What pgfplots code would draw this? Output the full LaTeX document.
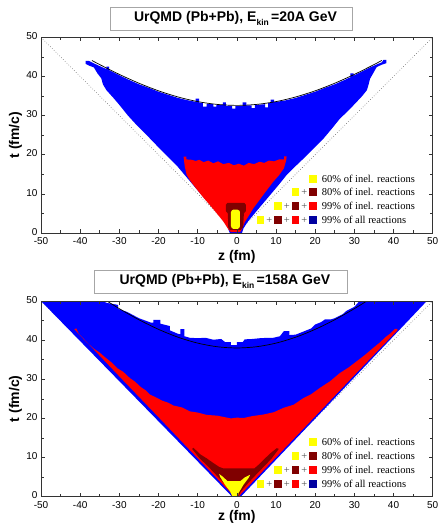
\documentclass[border=0pt]{standalone}
\usepackage{pgfplots}
\pgfplotsset{compat=1.18}
\usepackage{fontspec}
\setmainfont{Liberation Serif}
\setsansfont{Liberation Sans}
\definecolor{cblue}{RGB}{0,0,255}
\definecolor{cred}{RGB}{255,0,0}
\definecolor{cdark}{RGB}{128,0,0}
\definecolor{cyel}{RGB}{255,255,0}
\definecolor{cnavy}{RGB}{0,0,160}
\newcommand{\sq}[1]{\textcolor{#1}{\rule[-0.5pt]{7.6pt}{8pt}}}
\newcommand{\pl}{\hspace{2pt}{\color{black!70}+}\hspace{2pt}}
\newcommand{\legrow}[3]{\node[anchor=base west, inner sep=0pt, font=\fontsize{10.5}{10.5}\selectfont] at (rel axis cs:0.7166,#1) {\llap{#2\hspace{5pt}}#3};}

\pgfplotsset{panel/.style={
  width=391.7pt, height=195.7pt, scale only axis,
  xmin=-50,xmax=50,ymin=0,ymax=50,
  clip mode=individual,
  xtick={-50,-40,...,50}, xticklabels={-50,-40,-30,-20,-10,0,10,20,30,40,50},
  ytick={0,10,...,50}, yticklabels={0,10,20,30,40,50},
  minor tick num=1,
  tick align=inside, tick pos=both,
  major tick length=3.5pt, minor tick length=3pt,
  every tick/.style={black!80, line width=0.6pt},
  axis line style={black!80, line width=0.9pt},
  ticklabel style={font=\sffamily\fontsize{10}{10}\selectfont, inner sep=0.5pt},
  xticklabel shift=4pt, yticklabel shift=2.8pt,
  yticklabel style={yshift=1.2pt},
  xlabel={z (fm)}, ylabel={t (fm/c)},
  every axis y label/.style={at={(axis description cs:-0.065,0.5)}, rotate=90, anchor=center,
     font=\sffamily\bfseries\fontsize{14}{14}\selectfont},
  every axis x label/.style={at={(axis description cs:0.5,-0.122)}, anchor=center,
     font=\sffamily\bfseries\fontsize{14}{14}\selectfont},
  axis on top,
}}
\tikzset{titlebox/.style={draw=black!35, fill=white, line width=0.6pt, minimum height=23pt, inner sep=0pt, font=\sffamily\bfseries\fontsize{14}{14}\selectfont}}

\begin{document}
\begin{tikzpicture}
\useasboundingbox (0,0) rectangle (438pt,526pt);
% ===================== top panel: 20A GeV =====================
\begin{axis}[panel, at={(41pt,293pt)}, anchor=south west]
\addplot[black!60, dotted, line width=0.6pt] coordinates {(-50,50) (0,0) (50,50)};
% 99% of all reactions (blue)
\addplot[draw=none, fill=cblue] coordinates {
(-1.8,0) (-2.2,1.0) (-3.0,2.9) (-4.8,5.0) (-6.7,7.1) (-8.9,9.6) (-11.1,12.2) (-13.3,14.8)
(-15.4,17.3) (-18.0,19.9) (-20.5,22.4) (-23.0,25.0) (-25.6,27.6) (-27.8,30.0) (-29.8,32.5)
(-31.5,34.5) (-33.3,36.5) (-34.2,38.0) (-34.6,39.5) (-35.6,40.8) (-36.5,42.3) (-37.8,42.8)
(-38.6,43.2) (-38.6,44.0) (-37.8,44.0) (-37.0,43.6)
(-36,43.1) (-34.5,42.4) (-33.3,41.9) (-33.3,42.5) (-32.6,42.5) (-32.6,41.6) (-30,40.3)
(-27.5,39.1) (-25,38.0) (-22.5,37.1) (-20,36.1) (-17.5,35.3) (-15,34.5) (-12.5,33.9)
(-10.5,33.5) (-10.5,34.3) (-9.6,34.3) (-9.6,33.3) (-8.7,33.3) (-8.7,32.3) (-7.7,32.3)
(-7.7,33.0) (-6.0,32.9) (-6.0,32.3) (-5.2,32.3) (-5.2,32.8) (-3.6,32.7) (-3.6,33.4)
(-2.8,33.4) (-2.8,32.5) (-1.2,32.5) (-1.2,31.8) (-0.4,31.8) (-0.4,32.4) (1.5,32.4)
(1.5,33.4) (2.4,33.4) (2.4,32.6) (3.8,32.6) (3.8,31.9) (4.6,31.9) (4.6,32.7) (7.2,32.9)
(7.2,32.1) (8.0,32.1) (8.0,33.2) (8.6,33.2) (8.6,34.1) (9.5,34.1) (9.5,33.4) (12.5,33.9)
(15,34.5) (17.5,35.3) (20,36.1) (22.5,37.1) (25,38.0) (27.5,39.1) (29,39.8) (29,40.8)
(29.8,40.8) (29.8,40.2) (32,41.3) (34,42.3) (36,43.2) (37.0,43.6) (37.4,44.2) (38.2,44.2)
(38.2,43.4)
(37.0,43.0) (35.7,42.4) (34.8,40.8) (34.0,39.4) (33.6,37.8) (33.2,36.5) (32.0,35.0)
(30.6,33.5) (28.5,31.3) (26.3,29.2) (24.2,26.6) (22.1,24.1) (19.5,21.5) (17.0,19.0)
(14.8,16.9) (12.7,14.8) (10.6,12.2) (8.5,9.7) (6.3,7.1) (4.2,4.6) (2.8,2.9) (1.7,1.2) (1.3,0)
} -- cycle;
% 99% of inel. reactions (red)
\addplot[draw=none, fill=cred] coordinates {
(-1.5,0.2) (-2.2,1.0) (-3.5,3.0) (-5.6,5.6) (-7.2,7.5) (-8.5,9.0) (-10.5,11.5) (-11.8,13.2)
(-12.8,14.8) (-13.3,17.0) (-13.6,19.5) (-12.9,19.5) (-12.9,18.8) (-11.5,18.7) (-10.5,18.4)
(-9.6,18.7) (-8.5,18.1) (-7.3,18.5) (-6.0,17.8) (-4.8,18.3) (-3.5,17.6) (-2.0,17.9)
(-0.8,17.3) (0.5,17.7) (1.8,17.2) (3.0,17.9) (4.4,17.6) (5.8,18.2) (7.0,17.9) (8.2,18.5)
(9.5,18.3) (10.8,18.8) (12.1,18.8) (12.1,19.6) (12.7,19.6) (12.6,18.6) (12.3,17.5)
(12.0,16.5) (10.8,14.8) (9.3,13.1) (8.0,11.4) (6.7,9.7) (5.4,7.9) (4.2,6.3) (3.1,4.5)
(2.1,2.9) (1.2,0.8) (0.8,0.2)
} -- cycle;
% 80% of inel. reactions (dark red)
\addplot[draw=none, fill=cdark] coordinates {
(-2.8,5.6) (-2.8,7.2) (-2.4,7.7) (1.9,7.7) (2.3,7.2) (2.3,5.6) (1.8,5.0) (1.6,1.5)
(1.0,0.8) (-1.8,0.8) (-2.2,1.5) (-2.3,5.0)
} -- cycle;
% 60% of inel. reactions (yellow)
\addplot[draw=none, fill=cyel] coordinates {
(-1.5,1.8) (-1.3,1.3) (-0.9,1.05) (0.2,1.05) (0.6,1.3) (0.8,1.8) (0.8,5.3) (0.6,5.75)
(0.2,5.95) (-0.9,5.95) (-1.3,5.75) (-1.5,5.3)
} -- cycle;
% curve
\addplot[black, line width=0.7pt, smooth] coordinates {
(-37,44.08) (-35,43.02) (-30,40.52) (-25,38.27) (-20,36.33) (-15,34.75) (-10,33.57)
(-5,32.85) (0,32.60) (5,32.85) (10,33.57) (15,34.75) (20,36.33) (25,38.27) (30,40.52)
(35,43.02) (37,44.08)};
\node[titlebox, minimum width=242pt] at (rel axis cs:0.485,1.096)
  {\hspace*{9pt}UrQMD (Pb+Pb), E\raisebox{-3.5pt}{\fontsize{8.5}{8.5}\selectfont kin}\,=20A GeV};
\legrow{0.26}{\sq{cyel}}{60\% of inel. reactions}
\legrow{0.19}{\sq{cyel}\pl\sq{cdark}}{80\% of inel. reactions}
\legrow{0.118}{\sq{cyel}\pl\sq{cdark}\pl\sq{cred}}{99\% of inel. reactions}
\legrow{0.048}{\sq{cyel}\pl\sq{cdark}\pl\sq{cred}\pl\sq{cnavy}}{99\% of all reactions}
\end{axis}
% ===================== bottom panel: 158A GeV =====================
\begin{axis}[panel, at={(41pt,29.3pt)}, anchor=south west,
  every axis x label/.style={at={(axis description cs:0.5,-0.104)}, anchor=center,
     font=\sffamily\bfseries\fontsize{14}{14}\selectfont}]
\addplot[black!60, dotted, line width=0.6pt] coordinates {(-50,50) (0,0) (50,50)};
\addplot[draw=none, fill=cblue] coordinates {
(-1.2,0) (-25.6,25) (-50,50) (-34.3,50) (-33.2,49.5) (-30.3,49.0) (-30.3,48.0) (-28,47.2)
(-25,45.6) (-22,44.5) (-21.3,44.5) (-21.3,45.2) (-19.5,45.2) (-19.5,44.2) (-17.1,43.6)
(-17.1,42.5) (-15,41.6) (-14.4,41.5) (-14.4,42.8) (-13.4,42.8) (-13.4,41.0) (-12,40.6)
(-10,40.5) (-8,40.6) (-6,40.1) (-4,40.3) (-3,39.5) (-1.5,39.5) (-1.5,38.7) (0,38.7)
(0,39.5) (1.5,39.5) (2,40.2) (4,40.3) (6,40.5) (8,40.6) (9.3,40.6) (11,41.0) (12,42.3)
(13.4,42.3) (13.4,41.3) (15,41.4) (17,42.2) (19,43.0) (20,44.0) (21.5,44.6) (22.5,45.3)
(24,45.3) (25,45.6) (27,46.6) (28,47.5) (30,48.5) (31.3,50) (48.5,50) (24.8,25) (1.0,0)
} -- cycle;
\addplot[draw=none, fill=cred] coordinates {
(-0.6,0) (-10.2,10) (-19.7,20) (-29.3,30) (-38.8,40) (-41.5,42.8) (-41.0,43.0)
(-40.3,41.5) (-38.5,39.6) (-36.5,37.8) (-35,36.8) (-33.5,35.5) (-32,34.3) (-30.5,32.8)
(-29,31.9) (-27.3,30.3) (-26,29.4) (-24.5,28.0) (-23.3,27.2) (-22.2,26.1) (-20.5,25.3)
(-19,24.5) (-17.5,24.0) (-16.2,23.3) (-14,22.8) (-12,21.8) (-10,21.5) (-7.7,20.9)
(-5,20.7) (-3,20.3) (-1.5,20.0) (0,20.2) (1.7,20.1) (4,20.6) (6.8,21.0) (9.5,21.6)
(11.9,22.7) (14.5,23.5) (17.0,25.2) (19,26.2) (21.2,27.8) (23.8,29.5) (26.3,31.6)
(28.5,33.0) (30.6,34.6) (32.8,36.3) (34.8,38.0) (36.5,39.4) (38.0,40.8) (39.3,41.8)
(40.4,42.9) (41.0,42.9) (41.0,42.5) (38.6,40) (29.0,30) (19.5,20) (9.95,10) (0.4,0)
} -- cycle;
\addplot[draw=none, fill=cdark] coordinates {
(-11.4,12.2) (-11.1,12.5) (-9.3,10.8) (-7.7,9.8) (-6.0,8.6) (-4.5,7.6) (-3.5,7.25)
(4.5,7.25) (5.6,8.2) (7.2,9.8) (8.8,11.3) (10.2,12.4) (10.7,12.2) (8.9,9.8) (7.0,7.8)
(5.2,5.95) (2.8,3.4) (1.0,1.3) (0.5,0.2) (-1.3,0.2) (-1.5,1.0) (-3.3,3.5) (-5.7,6.0)
(-7.6,8.0) (-9.5,9.8)
} -- cycle;
\addplot[draw=none, fill=cyel] coordinates {
(-4.5,5.8) (-3.7,5.2) (-2.4,4.0) (0.9,4.0) (2.0,4.9) (3.4,5.6) (3.0,4.8) (1.65,3.0)
(0.9,1.7) (0.4,0.9) (0.3,0) (-1.3,0) (-1.3,0.4) (-1.7,1.3) (-3.0,3.0) (-4.3,5.1)
} -- cycle;
\addplot[black, line width=0.7pt, smooth] coordinates {
(-33.17,50) (-30,48.04) (-25,45.21) (-20,42.76) (-15,40.74) (-10,39.24) (-5,38.31)
(0,38.00) (5,38.31) (10,39.24) (15,40.74) (20,42.76) (25,45.21) (30,48.04) (33.17,50)};
\node[titlebox, minimum width=253pt] at (rel axis cs:0.458,1.0997)
  {\hspace*{9pt}UrQMD (Pb+Pb), E\raisebox{-3.5pt}{\fontsize{8.5}{8.5}\selectfont kin}\,=158A GeV};
\legrow{0.262}{\sq{cyel}}{60\% of inel. reactions}
\legrow{0.192}{\sq{cyel}\pl\sq{cdark}}{80\% of inel. reactions}
\legrow{0.12}{\sq{cyel}\pl\sq{cdark}\pl\sq{cred}}{99\% of inel. reactions}
\legrow{0.047}{\sq{cyel}\pl\sq{cdark}\pl\sq{cred}\pl\sq{cnavy}}{99\% of all reactions}
\end{axis}
\end{tikzpicture}
\end{document}
